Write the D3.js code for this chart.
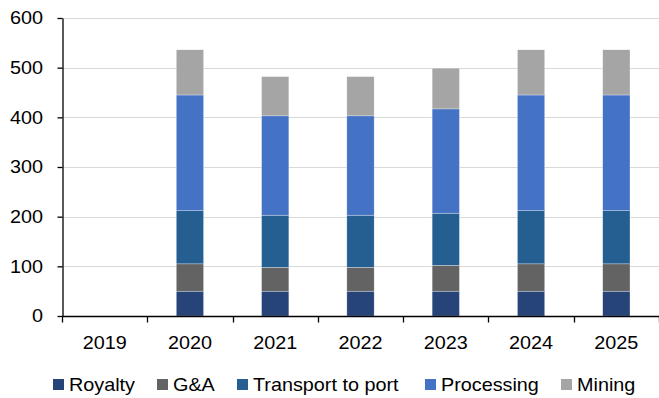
<!DOCTYPE html>
<html>
<head>
<meta charset="utf-8">
<script src="https://cdn.jsdelivr.net/npm/d3@7"></script>
<style>
  html, body { margin: 0; padding: 0; background: #fff; }
  svg { display: block; font-family: "Liberation Sans", Arial, sans-serif; }
</style>
</head>
<body>
<svg id="chart" width="659" height="398"></svg>
<script>
// Cost breakdown per year, stacked from bottom to top
const years = ["2019", "2020", "2021", "2022", "2023", "2024", "2025"];
const seriesNames = ["Royalty", "G&A", "Transport to port", "Processing", "Mining"];
const royalty    = [0, 50, 50, 50, 50, 50, 50];
const ga         = [0, 55, 48, 48, 52, 55, 55];
const transport  = [0, 107, 105, 105, 105, 107, 107];
const processing = [0, 233, 200, 200, 210, 233, 233];
const mining     = [0, 91, 79, 79, 82, 91, 91];
const yTicks = [0, 100, 200, 300, 400, 500, 600];
const colors = ["#264478", "#636363", "#255E91", "#4472C4", "#A5A5A5"];

const seriesValues = [royalty, ga, transport, processing, mining];
const rows = years.map((y, i) => {
  const r = { year: y };
  seriesNames.forEach((s, k) => { r[s] = seriesValues[k][i]; });
  return r;
});

const svg = d3.select("#chart");
const W = 659, H = 398;
const x0 = 62, x1 = W;
const yTop = 18, yBot = 316;
const FS = 18;          // label font size
const SX = 1.1;         // slight horizontal widening of label glyphs

const x = d3.scaleBand().domain(years).range([x0, x1]).paddingInner(0).paddingOuter(0);
const y = d3.scaleLinear().domain([0, 600]).range([yBot, yTop]);
const barW = x.bandwidth() * 0.32;

// helper: text placed at (px, py) with horizontal widening around its anchor
function label(g, px, py, str, anchor) {
  return g.append("text")
    .attr("transform", `translate(${px},${py}) scale(${SX},1)`)
    .attr("text-anchor", anchor)
    .attr("font-size", FS)
    .attr("fill", "#000")
    .text(str);
}

// horizontal gridlines
svg.append("g")
  .selectAll("line")
  .data(yTicks.filter(t => t > 0))
  .join("line")
  .attr("x1", x0).attr("x2", x1)
  .attr("y1", d => Math.round(y(d)) + 0.5).attr("y2", d => Math.round(y(d)) + 0.5)
  .attr("stroke", "#D9D9D9").attr("stroke-width", 1);

// stacked bars
const stack = d3.stack().keys(seriesNames);
const layers = stack(rows);
svg.append("g")
  .selectAll("g")
  .data(layers)
  .join("g")
  .attr("fill", (d, i) => colors[i])
  .selectAll("rect")
  .data(d => d.filter(p => p[1] - p[0] > 0))
  .join("rect")
  .attr("x", d => x(d.data.year) + (x.bandwidth() - barW) / 2)
  .attr("width", barW)
  .attr("y", d => y(d[1]))
  .attr("height", d => y(d[0]) - y(d[1]))
  .attr("stroke", "#ffffff").attr("stroke-width", 0.5).attr("stroke-opacity", 0.6);

// y axis
const yAxis = d3.axisLeft(y).tickValues(yTicks).tickSize(5).tickFormat("").tickSizeOuter(0);
const gy = svg.append("g").attr("transform", `translate(${x0 + 0.5},0)`).call(yAxis);
gy.select(".domain").attr("stroke", "#000").attr("stroke-width", 1.3);
gy.selectAll(".tick line").attr("stroke", "#000").attr("stroke-width", 1.3);
const gyl = svg.append("g");
yTicks.forEach(t => label(gyl, 43, y(t) + 0.36 * FS, String(t), "end"));

// x axis: ticks at category boundaries
const gx = svg.append("g").attr("transform", `translate(0,${yBot + 0.5})`);
gx.append("line").attr("x1", x0).attr("x2", x1).attr("stroke", "#000").attr("stroke-width", 1.3);
const bounds = years.map(yv => x(yv)).concat([x1]);
gx.selectAll("line.tk")
  .data(bounds)
  .join("line")
  .attr("class", "tk")
  .attr("x1", d => Math.round(d) + 0.5).attr("x2", d => Math.round(d) + 0.5)
  .attr("y1", 0).attr("y2", 6)
  .attr("stroke", "#000").attr("stroke-width", 1.3);
years.forEach(yr => label(gx, x(yr) + x.bandwidth() / 2, 32, yr, "middle"));

// legend
const legendX = [53, 157, 237, 425, 561];
const lg = svg.append("g");
seriesNames.forEach((s, i) => {
  lg.append("rect")
    .attr("x", legendX[i]).attr("y", 379).attr("width", 11).attr("height", 11)
    .attr("fill", colors[i]);
  label(lg, legendX[i] + 16, 390.5, s, "start");
});
</script>
</body>
</html>
